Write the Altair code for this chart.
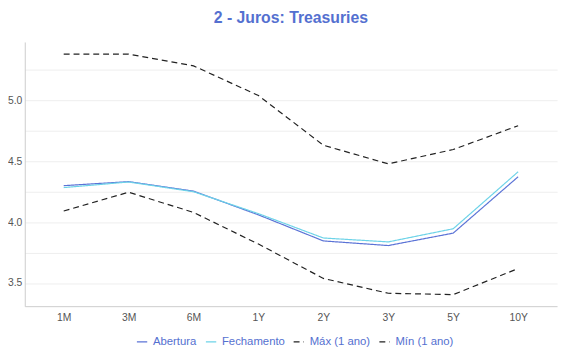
import altair as alt
import pandas as pd

vertices = ["1M", "3M", "6M", "1Y", "2Y", "3Y", "5Y", "10Y"]
abertura = [4.30, 4.333, 4.255, 4.06, 3.846, 3.808, 3.91, 4.373]
fechamento = [4.284, 4.33, 4.25, 4.07, 3.87, 3.838, 3.946, 4.414]
maximo = [5.381, 5.38, 5.284, 5.04, 4.632, 4.479, 4.597, 4.792]
minimo = [4.092, 4.246, 4.08, 3.82, 3.538, 3.416, 3.405, 3.619]

series = ["Abertura", "Fechamento", "Máx (1 ano)", "Mín (1 ano)"]
colors = ["#5b73d6", "#6dd3e8", "#222222", "#222222"]
dashes = [[1, 0], [1, 0], [6, 4], [6, 4]]

rows = []
for name, vals in zip(series, [abertura, fechamento, maximo, minimo]):
    for v, y in zip(vertices, vals):
        rows.append({"Vértice": v, "Taxa": y, "Série": name})
df = pd.DataFrame(rows)

grid_values = [3.5, 3.75, 4.0, 4.25, 4.5, 4.75, 5.0, 5.25]

chart = alt.Chart(df).mark_line(strokeWidth=1.2).encode(
    x=alt.X("Vértice:N", sort=vertices, title=None,
            scale=alt.Scale(type="point", padding=0.6),
            axis=alt.Axis(labelAngle=0, ticks=False, domainColor="#cccccc",
                          labelColor="#555555", labelFontSize=10.5, labelPadding=7,
                          labelFont="Liberation Sans")),
    y=alt.Y("Taxa:Q", title=None,
            scale=alt.Scale(domain=[3.31, 5.48], nice=False, zero=False),
            axis=alt.Axis(values=grid_values, ticks=False, domainColor="#cccccc",
                          gridColor="#eeeeee", labelColor="#555555", labelFontSize=10.5,
                          labelPadding=3, labelFont="Liberation Sans",
                          labelExpr="datum.value % 0.5 == 0 ? format(datum.value, '.1f') : ''")),
    color=alt.Color("Série:N", sort=series, title=None,
                    scale=alt.Scale(domain=series, range=colors),
                    legend=alt.Legend(orient="none", legendX=113, legendY=298,
                                      direction="horizontal",
                                      symbolType="stroke", symbolStrokeWidth=1.2,
                                      labelColor="#5470d0", labelFontSize=11.5,
                                      labelFont="Liberation Sans", symbolSize=110,
                                      columnPadding=6, labelOffset=5)),
    strokeDash=alt.StrokeDash("Série:N", sort=series, title=None,
                              scale=alt.Scale(domain=series, range=dashes)),
).properties(
    width=540, height=268,
    title=alt.TitleParams("2 - Juros: Treasuries", color="#5470d0", fontSize=16,
                          font="Liberation Sans", fontWeight="bold", anchor="middle",
                          offset=16),
    autosize=alt.AutoSizeParams(type="none"),
    padding={"left": 17, "top": 32, "right": 5, "bottom": 44},
).configure_view(stroke=None)

chart.save("out.html", embed_options={"renderer": "svg", "actions": False})
